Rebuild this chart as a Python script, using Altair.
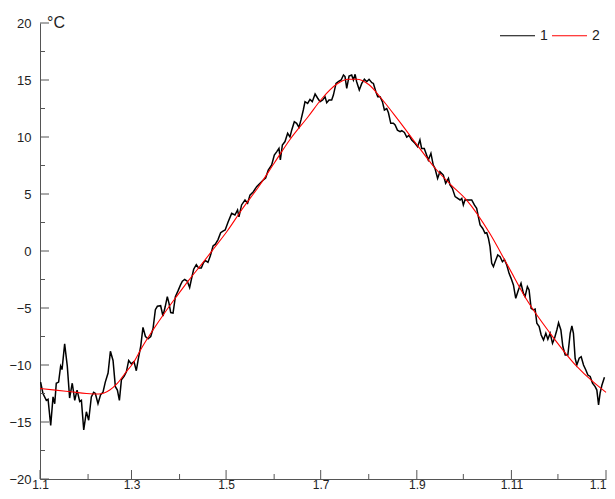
import json
import altair as alt
import pandas as pd

# ---- data ----
day1 = [0.4, 1.9, 4.1, 5.2, 6.9, 8.4, 9.5, 10.5, 12.0, 13.3, 14.2, 15.9, 17.6, 19.1, 20.8, 22.4,
        23.9, 25.6, 26.7, 28.2, 29.9, 31.4, 33.1, 34.6, 35.7, 37.4, 39.1, 40.6, 42.1, 43.9, 45.4,
        47.1, 48.6, 49.9, 51.2, 52.5, 54.2, 55.7, 57.2, 58.9, 60.6, 62.1, 63.6, 64.9, 66.4, 68.0,
        69.7, 71.4, 72.9, 74.4, 75.7, 77.8, 79.3, 80.8, 82.1, 83.2, 84.3, 85.8, 87.3, 89.0, 90.7,
        91.8, 93.3, 95.0, 96.5, 97.6, 99.1, 100.8, 102.3, 104.0, 105.5, 106.8, 108.3, 109.8, 111.6,
        113.1, 114.8, 116.5, 118.0, 119.4, 121.3, 123.6, 125.7, 127.4, 128.3, 130.0, 132.2, 133.9,
        135.4, 137.6, 139.7, 141.9, 144.0, 145.5, 147.2, 149.4, 151.1, 152.6, 154.1, 155.0, 156.3,
        158.0, 159.7, 161.2, 162.3, 164.0, 165.5, 167.0, 168.3, 169.8, 170.9, 172.6, 174.1, 175.6,
        177.4, 179.1, 180.6, 182.3, 183.8, 184.9, 186.4, 188.1, 189.2, 190.9, 192.4, 194.2, 195.7,
        196.7, 197.8, 199.3, 201.0, 202.1, 203.2, 204.2, 205.9, 207.5, 209.2, 210.7, 212.2, 214.0,
        215.0, 216.6, 217.8, 219.3, 220.8, 222.1, 223.6, 224.7, 226.2, 227.9, 229.0, 230.5, 232.2,
        233.3, 235.0, 236.5, 238.0, 239.7, 241.8, 243.5, 245.0, 246.1, 247.8, 249.3, 250.4, 252.1,
        253.6, 254.7, 256.4, 257.9, 260.1, 261.6, 263.4, 264.4, 265.9, 267.7, 269.4, 270.9, 272.0,
        273.0, 274.1, 275.8, 278.4, 280.1, 281.6, 282.7, 283.8, 285.5, 287.0, 288.1, 289.2, 290.2,
        291.3, 292.4, 293.5, 295.2, 296.7, 298.2, 299.5, 301.0, 302.5, 303.8, 305.3, 306.8, 308.5,
        310.2, 311.7, 312.8, 314.3, 315.4, 316.7, 318.2, 319.3, 320.4, 321.9, 323.2, 324.7, 326.2,
        327.5, 329.0, 330.5, 331.8, 333.3, 334.4, 335.9, 337.2, 338.7, 340.4, 341.9, 343.0, 344.0,
        345.1, 346.2, 347.7, 349.0, 350.5, 352.0, 353.3, 354.8, 356.3, 358.0, 359.1, 360.2, 361.2,
        362.3, 364.0]
temp1 = [-11.5, -12.5, -13.1, -13.0, -15.3, -12.8, -13.4, -11.6, -11.5, -10.1, -10.4, -8.15, -10.1,
         -12.9, -11.6, -13.1, -12.2, -13.2, -13.1, -15.7, -14.1, -14.85, -12.8, -12.4, -12.5, -13.4,
         -12.6, -12.4, -11.5, -10.7, -8.8, -9.6, -11.9, -12.2, -13.1, -11.3, -11.0, -10.6, -9.6, -9.9,
         -9.7, -10.5, -9.3, -8.4, -6.7, -7.5, -7.7, -7.5, -6.8, -5.15, -4.85, -4.8, -5.7, -4.85, -4.0,
         -4.6, -5.4, -5.45, -4.0, -3.5, -2.95, -2.65, -2.5, -2.65, -3.2, -2.5, -1.6, -1.2, -1.5, -1.5,
         -1.0, -0.85, -1.0, -0.45, 0.44, 0.6, 1.0, 1.6, 1.75, 1.85, 2.55, 3.3, 3.16, 3.6, 3.0, 4.04,
         4.47, 4.2, 4.9, 5.2, 5.64, 5.94, 6.23, 6.4, 7.1, 7.54, 8.42, 8.7, 9.0, 8.0, 9.3, 9.6, 10.32,
         10.0, 10.6, 11.34, 11.2, 10.85, 11.5, 12.37, 13.1, 12.95, 13.3, 13.1, 13.77, 13.4, 13.1,
         13.24, 13.54, 13.0, 13.24, 13.24, 13.68, 14.7, 14.85, 15.0, 15.44, 15.3, 14.27, 15.35, 15.44,
         15.0, 15.5, 14.85, 14.12, 14.7, 15.06, 14.85, 15.06, 14.77, 14.7, 13.97, 13.54, 13.54, 13.1,
         12.37, 12.5, 12.12, 11.2, 11.2, 11.05, 10.6, 10.47, 10.55, 10.4, 10.0, 10.15, 9.74, 9.45,
         9.15, 9.74, 9.0, 9.0, 8.42, 7.98, 8.57, 7.54, 7.25, 6.37, 6.96, 6.66, 5.94, 6.37, 5.8, 5.5,
         4.77, 4.62, 4.48, 4.62, 4.04, 4.5, 4.48, 4.48, 4.04, 3.75, 3.0, 2.28, 1.98, 1.55, 1.6, 1.1,
         0.38, -1.08, -1.37, -0.94, -0.35, -0.5, -0.94, -0.75, -1.23, -1.96, -2.4, -2.98, -4.15,
         -3.42, -2.83, -3.7, -4.0, -3.13, -3.42, -5.03, -5.17, -5.1, -6.34, -6.63, -7.37, -7.8, -7.22,
         -7.75, -7.22, -8.1, -7.66, -6.93, -6.29, -6.93, -8.4, -9.12, -9.12, -7.22, -6.58, -7.22,
         -9.41, -10.0, -9.41, -9.27, -10.0, -10.44, -10.88, -11.0, -11.6, -11.9, -12.2, -13.5, -12.46,
         -11.8, -11.08]

day2 = [0, 10, 20, 30, 38, 45, 50, 55, 60, 66, 73, 80, 88, 96, 104, 112, 121, 130, 141, 151, 161,
        173, 182, 191, 199, 204, 212, 220, 231, 244, 254, 265, 275, 290, 302, 314, 329, 346, 356, 365]
temp2 = [-12.06, -12.2, -12.35, -12.5, -12.55, -12.2, -11.6, -10.7, -9.85, -8.4, -6.9, -5.5, -4.0,
         -2.55, -1.2, 0.2, 1.8, 3.6, 5.64, 7.7, 9.74, 11.8, 13.4, 14.6, 15.06, 15.06, 14.6, 13.4, 11.5,
         9.15, 7.39, 5.8, 4.48, 1.55, -1.37, -4.3, -7.22, -10.1, -11.4, -12.4]

series_names = ["1", "2"]
series_colors = ["#000000", "#ff0000"]
xtick_days = [0, 59, 120, 181, 243, 304, 365]
xtick_labels = ["1.1", "1.3", "1.5", "1.7", "1.9", "1.11", "1.1"]
xminor_days = [31, 90, 151, 212, 273, 334]
ytick_vals = [-20, -15, -10, -5, 0, 5, 10, 15, 20]
yminor_vals = [-17.5, -12.5, -7.5, -2.5, 2.5, 7.5, 12.5, 17.5]
unit_label = ["°C"]

# ---- chart ----
W, H = 566, 456
FONT = "Liberation Sans"
AXC = "#555555"

df1 = pd.DataFrame({"day": day1, "temp": temp1, "series": series_names[0]})
df2 = pd.DataFrame({"day": day2, "temp": temp2, "series": series_names[1]})

label_expr = f"{json.dumps(xtick_labels)}[indexof({json.dumps(xtick_days)}, datum.value)]"

x_scale = alt.Scale(domain=[0, 365], nice=False, zero=False)
y_scale = alt.Scale(domain=[-20, 20], nice=False, zero=False)

x_axis = alt.Axis(values=xtick_days, labelExpr=label_expr, ticks=False, grid=False, title=None,
                  domainColor=AXC, labelColor="#222222", labelFontSize=12, labelFont=FONT,
                  labelPadding=0, labelFlush=False, labelOverlap=False,
                  labelAlign={"condition": {"test": f"datum.value >= {xtick_days[-1]}", "value": "right"},
                              "value": "center"})
y_axis = alt.Axis(values=ytick_vals, ticks=False, grid=False, title=None,
                  domainColor=AXC, labelColor="#222222", labelFontSize=13, labelFont=FONT,
                  labelPadding=9, labelFlush=False, labelOverlap=False)

color = alt.Color(
    "series:N",
    scale=alt.Scale(domain=series_names, range=series_colors),
    legend=alt.Legend(orient="none", legendX=459, legendY=-6, direction="horizontal",
                      symbolType="stroke", symbolSize=1225, symbolStrokeWidth=1.2,
                      labelFontSize=14, labelFont=FONT, labelColor="#222222",
                      labelOffset=4, columnPadding=1, padding=0, title=None),
)

black = alt.Chart(df1).mark_line(strokeWidth=1.5).encode(
    x=alt.X("day:Q", scale=x_scale, axis=x_axis),
    y=alt.Y("temp:Q", scale=y_scale, axis=y_axis),
    color=color,
)
red = alt.Chart(df2).mark_line(strokeWidth=1.1, interpolate="monotone").encode(
    x=alt.X("day:Q", scale=x_scale, axis=x_axis),
    y=alt.Y("temp:Q", scale=y_scale, axis=y_axis),
    color=color,
)

yt_major = alt.Chart(pd.DataFrame({"temp": ytick_vals})).mark_rule(color=AXC).encode(
    y=alt.Y("temp:Q", scale=y_scale, axis=y_axis), x=alt.value(0), x2=alt.value(9))
yt_minor = alt.Chart(pd.DataFrame({"temp": yminor_vals})).mark_rule(color=AXC).encode(
    y=alt.Y("temp:Q", scale=y_scale, axis=y_axis), x=alt.value(0), x2=alt.value(5))
xt_major = alt.Chart(pd.DataFrame({"day": xtick_days})).mark_rule(color=AXC).encode(
    x=alt.X("day:Q", scale=x_scale, axis=x_axis), y=alt.value(H), y2=alt.value(H - 9))
xt_minor = alt.Chart(pd.DataFrame({"day": xminor_days})).mark_rule(color=AXC).encode(
    x=alt.X("day:Q", scale=x_scale, axis=x_axis), y=alt.value(H), y2=alt.value(H - 5))

unit = alt.Chart(pd.DataFrame({"t": unit_label})).mark_text(
    align="left", baseline="alphabetic", fontSize=16, font=FONT, color="#222222"
).encode(text="t:N", x=alt.value(7), y=alt.value(4.5))

chart = alt.layer(black, red, yt_major, yt_minor, xt_major, xt_minor, unit).properties(
    width=W, height=H,
    autosize=alt.AutoSizeParams(type="none"),
    padding={"left": 32, "top": 15, "right": 1, "bottom": 12},
    background="#ffffff",
).configure_view(stroke=None)

chart.save("out.html", embed_options={"renderer": "svg", "actions": False})
